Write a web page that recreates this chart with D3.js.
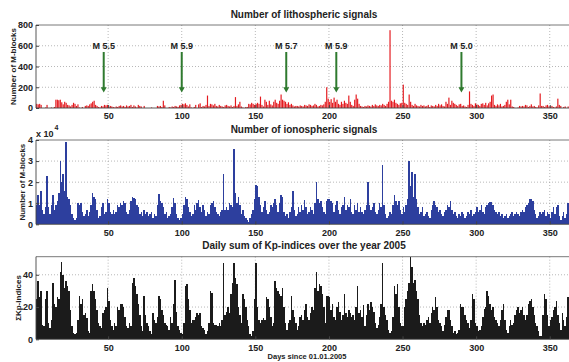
<!DOCTYPE html>
<html>
<head>
<meta charset="utf-8">
<script src="https://cdn.jsdelivr.net/npm/d3@7"></script>
<style>
  body { margin: 0; background: #fff; }
  svg { display: block; font-family: "Liberation Sans", Arial, sans-serif; font-weight: bold; }
</style>
</head>
<body>
<svg id="chart" width="569" height="362"></svg>
<script>
// daily values, day 1 .. 365 of 2005
const lithoValues = [
  40,35,40,30,0, 0,5,30,0,0, 5,0,10,80,80, 75,80,55,35,60,
  50,30,25,15,30, 50,40,20,35,5, 0,10,0,20,25, 20,35,45,60,70,
  30,20,10,5,20, 15,30,25,30,10, 20,15,10,5,15, 10,20,25,15,20,
  10,25,15,20,30, 10,25,15,5,30, 20,15,0,20,0, 0,0,0,5,0,
  0,0,20,15,20, 10,70,25,0,0, 10,5,15,10,20, 15,10,25,30,40,
  35,45,30,15,35, 5,0,10,30,0, 35,45,10,20,15, 30,120,20,40,35,
  25,40,20,15,30, 20,15,10,25,30, 20,15,25,10,20, 105,20,35,60,15,
  5,0,10,10,40, 35,50,40,30,40, 50,40,110,30,15, 80,60,30,70,35,
  25,60,80,50,40, 70,130,80,70,60, 40,55,30,40,25, 15,20,20,15,25,
  20,15,30,25,20, 35,30,20,25,40, 30,15,20,30,25, 35,60,200,90,60,
  85,50,100,60,80, 40,30,60,40,70, 50,40,120,60,30, 20,80,130,90,40,
  20,15,10,20,15, 25,20,15,30,20, 35,25,20,30,25, 40,30,20,40,60,
  750,70,60,80,50, 40,30,45,50,225, 50,40,30,130,60, 30,20,40,25,20,
  15,30,20,25,15, 20,30,10,25,20, 15,30,20,40,25, 35,20,15,60,40,
  100,30,70,50,40, 30,20,35,40,20, 25,15,10,30,160, 40,30,20,45,35,
  30,20,40,45,30, 50,25,45,60,120, 130,30,20,35,25, 40,15,20,30,60,
  80,35,80,15,10, 0,0,5,20,15, 20,15,30,25,10, 20,35,15,20,10,
  5,25,140,20,20, 10,25,30,15,15, 20,10,5,15,90, 30,20,0,10,15,
  0,15,20,10,15
];

// x 10^4
const ionoValues = [
  0.9,1.4,0.9,1.6,0.7, 0.5,0.8,2.3,0.8,0.5, 0.9,1.4,0.7,0.9,1.1, 1.5,3.0,2.0,2.4,1.6,
  3.9,1.3,1.2,0.9,0.5, 0.3,0.2,0.3,1.0,0.9, 1.0,0.6,0.4,0.5,0.7, 0.4,0.6,0.9,1.5,1.3,
  1.2,0.7,0.3,0.4,0.8, 1.0,0.5,0.6,1.2,1.0, 0.6,0.5,0.7,0.5,0.6, 0.9,0.8,1.0,0.9,1.1,
  1.0,0.6,0.5,0.7,1.1, 1.3,1.25,1.2,0.9,0.8, 0.5,0.6,0.4,0.7,0.5, 0.6,0.4,0.5,0.6,0.3,
  0.5,0.4,0.9,1.45,1.1, 1.0,0.8,0.5,0.6,0.3, 0.4,0.5,0.8,1.25,1.0, 0.5,0.3,0.2,0.3,0.5,
  0.9,1.3,1.2,0.8,0.6, 0.4,0.5,0.9,0.7,1.0, 1.15,0.8,0.6,0.9,0.7, 0.4,0.6,0.5,0.9,1.0,
  1.1,0.8,0.6,0.5,0.4, 0.6,0.7,2.4,0.7,0.8, 0.7,1.0,0.9,0.8,3.55, 1.5,1.0,1.3,0.9,0.5,
  0.7,0.4,0.3,0.2,0.1, 0.3,0.5,0.7,1.2,1.85, 1.8,1.3,0.9,0.6,0.8, 1.1,0.7,0.5,0.6,0.9,
  0.8,1.0,1.2,0.9,0.6, 1.0,1.4,1.3,0.6,0.4, 0.5,0.3,0.6,0.8,1.6, 0.7,0.4,0.5,0.8,0.6,
  0.9,0.7,1.15,0.8,0.5, 0.6,0.8,0.7,0.5,1.0, 2.0,1.2,1.0,1.1,0.8, 0.6,0.5,1.1,1.2,1.2,
  1.1,1.0,0.6,0.9,1.1, 0.7,0.5,0.8,0.9,1.3, 0.7,0.9,0.8,1.2,0.6, 0.5,0.9,0.7,1.0,0.6,
  0.8,0.6,0.5,0.7,0.9, 2.0,0.9,0.7,0.8,1.0, 0.6,0.5,0.7,1.0,0.8, 2.8,0.9,0.5,0.3,0.4,
  0.6,0.5,0.9,1.4,1.1, 0.9,1.1,0.7,0.5,0.8, 0.6,0.9,1.2,3.0,1.8, 2.5,1.3,2.4,1.2,0.8,
  0.5,0.6,0.8,0.4,0.5, 0.6,0.4,0.3,0.7,0.9, 1.1,0.9,0.8,0.6,0.7, 0.5,0.4,0.6,0.7,0.9,
  0.8,1.1,0.7,0.5,0.6, 0.4,0.3,0.5,0.4,0.6, 0.5,0.3,0.4,0.6,0.5, 0.7,0.4,0.5,0.6,0.8,
  0.6,0.7,0.9,0.6,0.5, 0.8,0.9,1.0,1.05,1.05, 0.9,0.7,0.6,0.5,0.6, 0.4,0.5,0.3,0.4,0.5,
  0.3,0.4,0.5,0.6,0.4, 0.5,0.6,0.5,0.4,0.6, 0.7,0.6,0.8,0.9,1.0, 1.2,1.2,1.1,0.7,0.5,
  0.3,0.4,0.6,0.5,0.6, 0.7,0.4,0.6,0.5,0.3, 0.6,0.8,0.5,0.8,0.9, 0.4,0.2,0.4,0.6,0.3,
  0.5,1.0,1.6,1.5,1.2
];

const kpValues = [
  25,36,26,30,9, 8,25,30,10,7, 12,35,22,20,26, 25,42,48,40,32,
  36,33,30,18,8, 4,3,4,12,27, 22,25,15,16,13, 5,4,30,34,30,
  25,18,10,8,7, 16,18,20,32,24, 12,8,6,10,8, 20,18,22,22,20,
  14,8,7,10,8, 35,38,33,28,22, 15,8,5,27,15, 10,8,5,3,16,
  12,10,14,27,25, 18,15,10,9,8, 6,14,10,22,37, 17,8,6,4,3,
  10,33,34,25,18, 10,12,12,14,16, 15,16,8,7,6, 3,5,10,30,29,
  10,9,9,8,10, 8,12,47,15,17, 20,16,28,35,47, 38,34,20,15,10,
  28,25,20,12,8, 3,2,5,25,47, 20,12,10,12,13, 12,26,25,20,14,
  8,10,36,32,30, 28,27,32,20,10, 6,10,12,27,18, 14,10,6,8,14,
  15,12,18,22,14, 12,16,20,18,32, 42,30,34,33,28, 20,10,27,27,26,
  18,22,14,12,20, 23,17,12,15,28, 16,14,18,16,14, 15,12,20,33,16,
  18,14,21,8,15, 22,18,23,20,17, 10,7,9,14,22, 47,20,15,12,6,
  4,5,14,33,28, 34,20,10,8,8, 20,25,30,35,51, 45,35,37,30,25,
  15,10,8,10,9, 12,14,10,16,20, 18,26,20,12,10, 8,5,9,14,18,
  18,12,8,4,5, 3,4,6,22,20, 20,15,12,10,7, 12,28,25,10,8,
  5,6,8,14,19, 20,30,27,22,18, 20,14,12,10,8, 12,18,22,12,6,
  4,8,12,9,10, 15,18,20,16,18, 20,15,12,15,22, 24,25,20,15,10,
  8,5,2,2,15, 28,25,15,8,12, 14,18,20,24,15, 10,6,16,12,8,
  14,26,20,22,24
];

const quakeDays = [47, 100, 171, 205, 290];
const quakeLabels = ["M 5.5", "M 5.9", "M 5.7", "M 5.9", "M 5.0"];

const dayTicks = [50, 100, 150, 200, 250, 300, 350];
const lithoTicks = [0, 200, 400, 600, 800];
const ionoTicks = [0, 1, 2, 3, 4];
const kpTicks = [0, 20, 40];

const svg = d3.select("#chart");
const x = d3.scaleLinear().domain([1, 366]).range([36, 573.3]);
const step = x(2) - x(1);
const days = d3.range(1, 366);

function drawPanel(p) {
  const y = d3.scaleLinear().domain([0, p.ymax]).range([p.bottom, p.top]);
  const g = svg.append("g");

  // dotted grid
  const grid = g.append("g").attr("stroke", "#9a9a9a").attr("stroke-width", 0.7)
    .attr("stroke-dasharray", "1,2");
  grid.selectAll("line.v").data(dayTicks).join("line")
    .attr("x1", d => x(d)).attr("x2", d => x(d))
    .attr("y1", p.top).attr("y2", p.bottom);
  grid.selectAll("line.h").data(p.ticks.filter(t => t > 0 && y(t) > p.top + 1)).join("line")
    .attr("x1", x(1)).attr("x2", 569)
    .attr("y1", d => y(d)).attr("y2", d => y(d));

  // bars
  const w = step * p.barFrac;
  g.append("g").attr("shape-rendering", p.crisp ? "crispEdges" : "auto")
    .selectAll("rect").data(days).join("rect")
    .attr("x", d => x(d) + (step - w) / 2)
    .attr("width", w)
    .attr("y", d => y(p.values[d - 1]))
    .attr("height", d => p.bottom - y(p.values[d - 1]))
    .attr("fill", p.color);

  // frame line on top
  g.append("line").attr("x1", x(1)).attr("x2", 569).attr("y1", p.top).attr("y2", p.top)
    .attr("stroke", "#555").attr("stroke-width", 0.8);

  const ya = g.append("g").attr("transform", `translate(${x(1)},0)`)
    .call(d3.axisLeft(y).tickValues(p.ticks).tickFormat(d3.format("d")).tickSize(-3).tickPadding(3));
  const xa = g.append("g").attr("transform", `translate(0,${p.bottom})`)
    .call(d3.axisBottom(x).tickValues(dayTicks).tickSize(-3).tickPadding(5));
  [ya, xa].forEach(a => {
    a.select(".domain").attr("stroke", "#444").attr("stroke-width", 0.9);
    a.selectAll(".tick line").attr("stroke", "#444");
    a.selectAll("text").attr("font-size", 9).attr("font-weight", "bold")
      .attr("font-family", "Liberation Sans, Arial, sans-serif").attr("fill", "#222");
  });
  ya.select(".domain").attr("d", `M0,${p.bottom}V${p.top}`);
  xa.select(".domain").attr("d", `M${x(1)},0H569`);

  // title & y label
  g.append("text").attr("x", 304).attr("y", p.titleY).attr("text-anchor", "middle")
    .attr("font-size", 10).attr("fill", "#222").text(p.title);
  g.append("text")
    .attr("transform", `translate(${p.ylabelX},${(p.top + p.bottom) / 2}) rotate(-90)`)
    .attr("text-anchor", "middle").attr("dy", "0.35em")
    .attr("font-size", 8).attr("fill", "#222").text(p.ylabel);
  return y;
}

const y1 = drawPanel({
  top: 25, bottom: 108, ymax: 800, ticks: lithoTicks, values: lithoValues,
  color: "#e41a1f", barFrac: 0.8, crisp: false, title: "Number of lithospheric signals",
  titleY: 17.5, ylabel: "Number of M-blocks", ylabelX: 13
});

drawPanel({
  top: 140, bottom: 224.3, ymax: 4, ticks: ionoTicks, values: ionoValues,
  color: "#2d3f9e", barFrac: 1, crisp: true, title: "Number of ionospheric signals",
  titleY: 132.5, ylabel: "Number of M-blocks", ylabelX: 22
});

drawPanel({
  top: 256.7, bottom: 339.3, ymax: 51.2, ticks: kpTicks, values: kpValues,
  color: "#1b1b1b", barFrac: 1, crisp: true, title: "Daily sum of Kp-indices over the year 2005",
  titleY: 248.5, ylabel: "\u03A3Kp-indices", ylabelX: 18
});

// exponent of ionospheric axis
const ex = svg.append("text").attr("x", 36).attr("y", 137).attr("font-size", 9).attr("fill", "#222");
ex.append("tspan").text("x 10");
ex.append("tspan").attr("dy", -7).attr("dx", 1).attr("font-size", 7).text("4");

// earthquake arrows
const green = "#2f7a2f";
const q = svg.append("g");
quakeDays.forEach((d, i) => {
  const cx = x(d);
  q.append("line").attr("x1", cx).attr("x2", cx)
    .attr("y1", y1(540)).attr("y2", y1(185))
    .attr("stroke", green).attr("stroke-width", 2);
  q.append("path")
    .attr("d", `M${cx - 3},${y1(200)}L${cx + 3},${y1(200)}L${cx},${y1(150)}Z`)
    .attr("fill", green);
  q.append("text").attr("x", cx).attr("y", y1(572)).attr("text-anchor", "middle")
    .attr("font-size", 9).attr("fill", "#222").text(quakeLabels[i]);
});

// x label
svg.append("text").attr("x", 307).attr("y", 359).attr("text-anchor", "middle")
  .attr("font-size", 7.5).attr("fill", "#222").text("Days since 01.01.2005");
</script>
</body>
</html>
